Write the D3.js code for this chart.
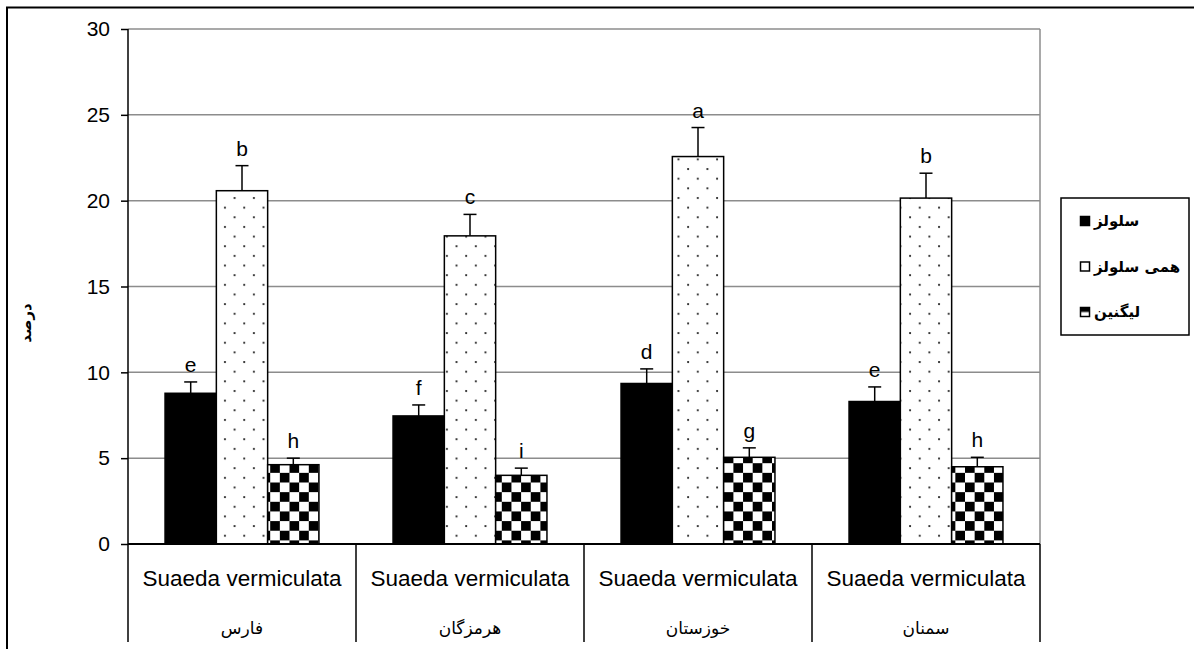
<!DOCTYPE html>
<html>
<head>
<meta charset="utf-8">
<script src="https://cdn.jsdelivr.net/npm/d3@7"></script>
<style>
  html, body { margin: 0; padding: 0; background: #fff; }
  svg { display: block; }
</style>
</head>
<body>
<svg id="chart" width="1194" height="649"></svg>
<script>
// ---- data ----
const species = ["Suaeda vermiculata", "Suaeda vermiculata", "Suaeda vermiculata", "Suaeda vermiculata"];
const regions = ["فارس", "هرمزگان", "خوزستان", "سمنان"];
const seriesNames = ["سلولز", "همی سلولز", "لیگنین"];
const cellulose = [8.78, 7.46, 9.35, 8.30];
const celluloseErr = [0.66, 0.64, 0.85, 0.85];
const hemicellulose = [20.58, 17.95, 22.57, 20.15];
const hemicelluloseErr = [1.46, 1.25, 1.69, 1.45];
const lignin = [4.62, 4.00, 5.05, 4.50];
const ligninErr = [0.38, 0.42, 0.55, 0.55];
const celluloseLetters = ["e", "f", "d", "e"];
const hemicelluloseLetters = ["b", "c", "a", "b"];
const ligninLetters = ["h", "i", "g", "h"];
const yTicks = [0, 5, 10, 15, 20, 25, 30];
const yLabel = "درصد";

const seriesValues = [cellulose, hemicellulose, lignin];
const seriesErrs = [celluloseErr, hemicelluloseErr, ligninErr];
const seriesLetters = [celluloseLetters, hemicelluloseLetters, ligninLetters];
const seriesFill = ["#000", "url(#dots)", "url(#checker)"];

// ---- layout ----
const svg = d3.select("#chart");
const pLeft = 128, pRight = 1040, pTop = 29, pBottom = 544, catBottom = 642;
const font = "'Liberation Sans', Arial, sans-serif";

const defs = svg.append("defs");
const dots = defs.append("pattern").attr("id", "dots").attr("patternUnits", "userSpaceOnUse")
  .attr("width", 19.3).attr("height", 19.3).attr("x", 1).attr("y", 3);
dots.append("rect").attr("width", 19.3).attr("height", 19.3).attr("fill", "#fff");
dots.append("circle").attr("cx", 2).attr("cy", 2).attr("r", 1.1).attr("fill", "#222");
dots.append("circle").attr("cx", 11.65).attr("cy", 11.65).attr("r", 1.1).attr("fill", "#222");

const checker = defs.append("pattern").attr("id", "checker").attr("patternUnits", "userSpaceOnUse")
  .attr("width", 19.3).attr("height", 19.3).attr("x", 0).attr("y", 0);
checker.append("rect").attr("width", 19.3).attr("height", 19.3).attr("fill", "#fff");
checker.append("rect").attr("width", 9.65).attr("height", 9.65).attr("fill", "#000");
checker.append("rect").attr("x", 9.65).attr("y", 9.65).attr("width", 9.65).attr("height", 9.65).attr("fill", "#000");

// outer frame
svg.append("rect").attr("x", 7).attr("y", 7.5).attr("width", 1300).attr("height", 800)
  .attr("fill", "none").attr("stroke", "#000").attr("stroke-width", 2);

const x = d3.scaleBand().domain(d3.range(regions.length)).range([pLeft, pRight]).padding(0);
const bw = x.bandwidth();
const groupW = bw * 0.675;
const xs = d3.scaleBand().domain(d3.range(seriesNames.length))
  .range([(bw - groupW) / 2, (bw + groupW) / 2]).padding(0);
const y = d3.scaleLinear().domain([0, 30]).range([pBottom, pTop]);

// gridlines
svg.append("g").selectAll("line").data(yTicks.filter(d => d > 0)).join("line")
  .attr("x1", pLeft).attr("x2", pRight)
  .attr("y1", d => y(d)).attr("y2", d => y(d))
  .attr("stroke", "#8c8c8c").attr("stroke-width", 1.5);
svg.append("line").attr("x1", pRight).attr("x2", pRight).attr("y1", pTop).attr("y2", pBottom)
  .attr("stroke", "#8c8c8c").attr("stroke-width", 1.5);

// bars
seriesValues.forEach((vals, s) => {
  const g = svg.append("g");
  g.selectAll("rect").data(vals).join("rect")
    .attr("x", (d, i) => x(i) + xs(s))
    .attr("y", d => y(d))
    .attr("width", xs.bandwidth())
    .attr("height", d => y(0) - y(d))
    .attr("fill", seriesFill[s])
    .attr("stroke", "#000").attr("stroke-width", 1.5);
  g.selectAll("line.err").data(vals).join("line").attr("class", "err")
    .attr("x1", (d, i) => x(i) + xs(s) + xs.bandwidth() / 2)
    .attr("x2", (d, i) => x(i) + xs(s) + xs.bandwidth() / 2)
    .attr("y1", d => y(d))
    .attr("y2", (d, i) => y(d + seriesErrs[s][i]))
    .attr("stroke", "#000").attr("stroke-width", 1.5);
  g.selectAll("line.cap").data(vals).join("line").attr("class", "cap")
    .attr("x1", (d, i) => x(i) + xs(s) + xs.bandwidth() / 2 - 6.5)
    .attr("x2", (d, i) => x(i) + xs(s) + xs.bandwidth() / 2 + 6.5)
    .attr("y1", (d, i) => y(d + seriesErrs[s][i]))
    .attr("y2", (d, i) => y(d + seriesErrs[s][i]))
    .attr("stroke", "#000").attr("stroke-width", 1.5);
  g.selectAll("text").data(vals).join("text")
    .attr("x", (d, i) => x(i) + xs(s) + xs.bandwidth() / 2)
    .attr("y", (d, i) => y(d + seriesErrs[s][i]) - 10)
    .attr("text-anchor", "middle")
    .attr("font-family", font).attr("font-size", 21)
    .text((d, i) => seriesLetters[s][i]);
});

// y axis
const yAxis = svg.append("g").attr("transform", `translate(${pLeft},0)`)
  .call(d3.axisLeft(y).tickValues(yTicks).tickSize(7).tickPadding(11).tickFormat(d3.format("d")));
yAxis.select(".domain").remove();
yAxis.selectAll(".tick line").attr("stroke", "#000").attr("stroke-width", 1.5);
yAxis.selectAll(".tick text").attr("font-family", font).attr("font-size", 21).attr("fill", "#000");
svg.append("line").attr("x1", pLeft).attr("x2", pLeft).attr("y1", pTop).attr("y2", catBottom)
  .attr("stroke", "#000").attr("stroke-width", 1.5);

// x axis
svg.append("line").attr("x1", pLeft).attr("x2", pRight).attr("y1", pBottom).attr("y2", pBottom)
  .attr("stroke", "#000").attr("stroke-width", 2);
svg.append("g").selectAll("line").data(d3.range(1, regions.length + 1)).join("line")
  .attr("x1", d => pLeft + d * bw).attr("x2", d => pLeft + d * bw)
  .attr("y1", pBottom).attr("y2", catBottom)
  .attr("stroke", "#000").attr("stroke-width", 1.5);
svg.append("g").selectAll("text").data(species).join("text")
  .attr("x", (d, i) => x(i) + bw / 2).attr("y", 586)
  .attr("text-anchor", "middle").attr("font-family", font).attr("font-size", 22.5)
  .text(d => d);
svg.append("g").selectAll("text").data(regions).join("text")
  .attr("x", (d, i) => x(i) + bw / 2).attr("y", 634)
  .attr("text-anchor", "middle").attr("font-family", "'DejaVu Sans', sans-serif").attr("font-size", 17)
  .text(d => d);

// y label
svg.append("text").attr("transform", "translate(26,323) rotate(-90)")
  .attr("text-anchor", "middle").attr("dominant-baseline", "central")
  .attr("font-family", "'DejaVu Sans', sans-serif").attr("font-size", 15).attr("font-weight", "bold")
  .text(yLabel);

// legend
const lg = svg.append("g");
lg.append("rect").attr("x", 1061).attr("y", 198).attr("width", 128).attr("height", 137)
  .attr("fill", "#fff").attr("stroke", "#000").attr("stroke-width", 1.5);
const legendFill = ["#000", "#fff", "url(#legchk)"];
const legchk = defs.append("pattern").attr("id", "legchk").attr("patternUnits", "objectBoundingBox")
  .attr("width", 1).attr("height", 1);
legchk.append("rect").attr("width", 9).attr("height", 9).attr("fill", "#fff");
legchk.append("rect").attr("width", 9).attr("height", 4.5).attr("fill", "#000");
seriesNames.forEach((name, s) => {
  const cy = 221 + s * 45.5;
  lg.append("rect").attr("x", 1080.5).attr("y", cy - 4.5).attr("width", 9).attr("height", 9)
    .attr("fill", legendFill[s]).attr("stroke", "#000").attr("stroke-width", 1.5);
  lg.append("text").attr("x", 1094).attr("y", cy).attr("dominant-baseline", "central")
    .attr("font-family", "'DejaVu Sans', sans-serif").attr("font-size", 15).attr("font-weight", "bold")
    .text(name);
});
</script>
</body>
</html>
